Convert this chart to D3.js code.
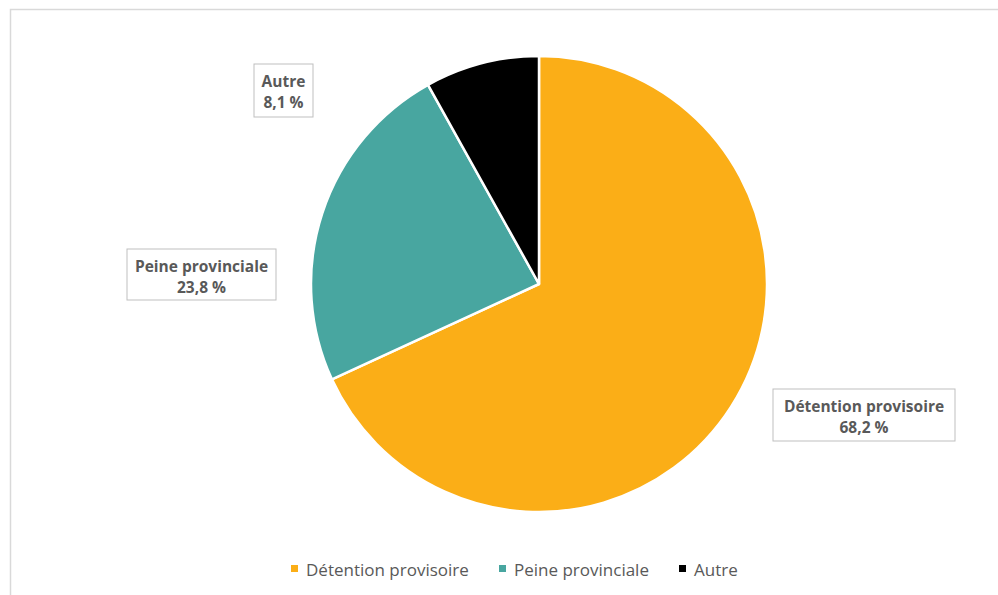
<!DOCTYPE html>
<html>
<head>
<meta charset="utf-8">
<script src="https://cdn.jsdelivr.net/npm/d3@7"></script>
<style>
  html, body { margin: 0; padding: 0; background: #fff; }
  svg { display: block; }
</style>
</head>
<body>
<svg id="chart" width="998" height="595"></svg>
<script>
// Répartition des admissions
const categories = ["Détention provisoire", "Peine provinciale", "Autre"];
const values = [68.2, 23.8, 8.1];
const valueLabels = ["68,2 %", "23,8 %", "8,1 %"];
const colors = ["#FBAE17", "#48A6A0", "#000000"];

const svg = d3.select("#chart");
const W = 998, H = 595;
const cx = 539, cy = 284, R = 228;
const textColor = "#595959";
const fontFamily = "'Open Sans', 'Liberation Sans', sans-serif";

// Cadre du graphique
svg.append("rect")
  .attr("x", 10.5).attr("y", 9.5)
  .attr("width", W).attr("height", H)
  .attr("fill", "none")
  .attr("stroke", "#d9d9d9")
  .attr("stroke-width", 1.5);

const data = categories.map((c, i) => ({ name: c, value: values[i], label: valueLabels[i], color: colors[i] }));

const pie = d3.pie().value(d => d.value).sort(null);
const arc = d3.arc().innerRadius(0).outerRadius(R);
const arcs = pie(data);

const g = svg.append("g").attr("transform", `translate(${cx},${cy})`);
g.selectAll("path")
  .data(arcs)
  .join("path")
  .attr("d", arc)
  .attr("fill", d => d.data.color)
  .attr("stroke", "#fff")
  .attr("stroke-width", 2.5)
  .attr("stroke-linejoin", "round");

// Étiquettes de données encadrées, à l'extérieur de la tarte
// (position du centre de chaque cadre par rapport au centre de la tarte, et taille du cadre)
const labelLayout = [
  { dx: 325, dy: 131, w: 182, h: 52 },
  { dx: -337.5, dy: -9.5, w: 149, h: 51 },
  { dx: -255.5, dy: -193.5, w: 59, h: 53 }
];
const labelG = svg.append("g").attr("transform", `translate(${cx},${cy})`);
arcs.forEach((a, i) => {
  const b = labelLayout[i];
  const grp = labelG.append("g").attr("transform", `translate(${b.dx},${b.dy})`);
  grp.append("rect")
    .attr("x", -b.w / 2).attr("y", -b.h / 2)
    .attr("width", b.w).attr("height", b.h)
    .attr("fill", "#fff")
    .attr("stroke", "#bfbfbf")
    .attr("stroke-width", 1);
  [a.data.name, a.data.label].forEach((t, k) => {
    grp.append("text")
      .attr("text-anchor", "middle")
      .attr("y", -b.h / 2 + 23 + k * 21)
      .attr("fill", textColor)
      .attr("font-family", fontFamily)
      .attr("font-weight", 700)
      .attr("font-size", 15.5)
      .text(t);
  });
});

// Légende
const legendX = [291, 499, 679];
const legend = svg.append("g");
data.forEach((d, i) => {
  legend.append("rect")
    .attr("x", legendX[i]).attr("y", 565)
    .attr("width", 7).attr("height", 7)
    .attr("fill", d.color);
  legend.append("text")
    .attr("x", legendX[i] + 15).attr("y", 576)
    .attr("fill", textColor)
    .attr("font-family", fontFamily)
    .attr("font-size", 17)
    .text(d.name);
});
</script>
</body>
</html>
